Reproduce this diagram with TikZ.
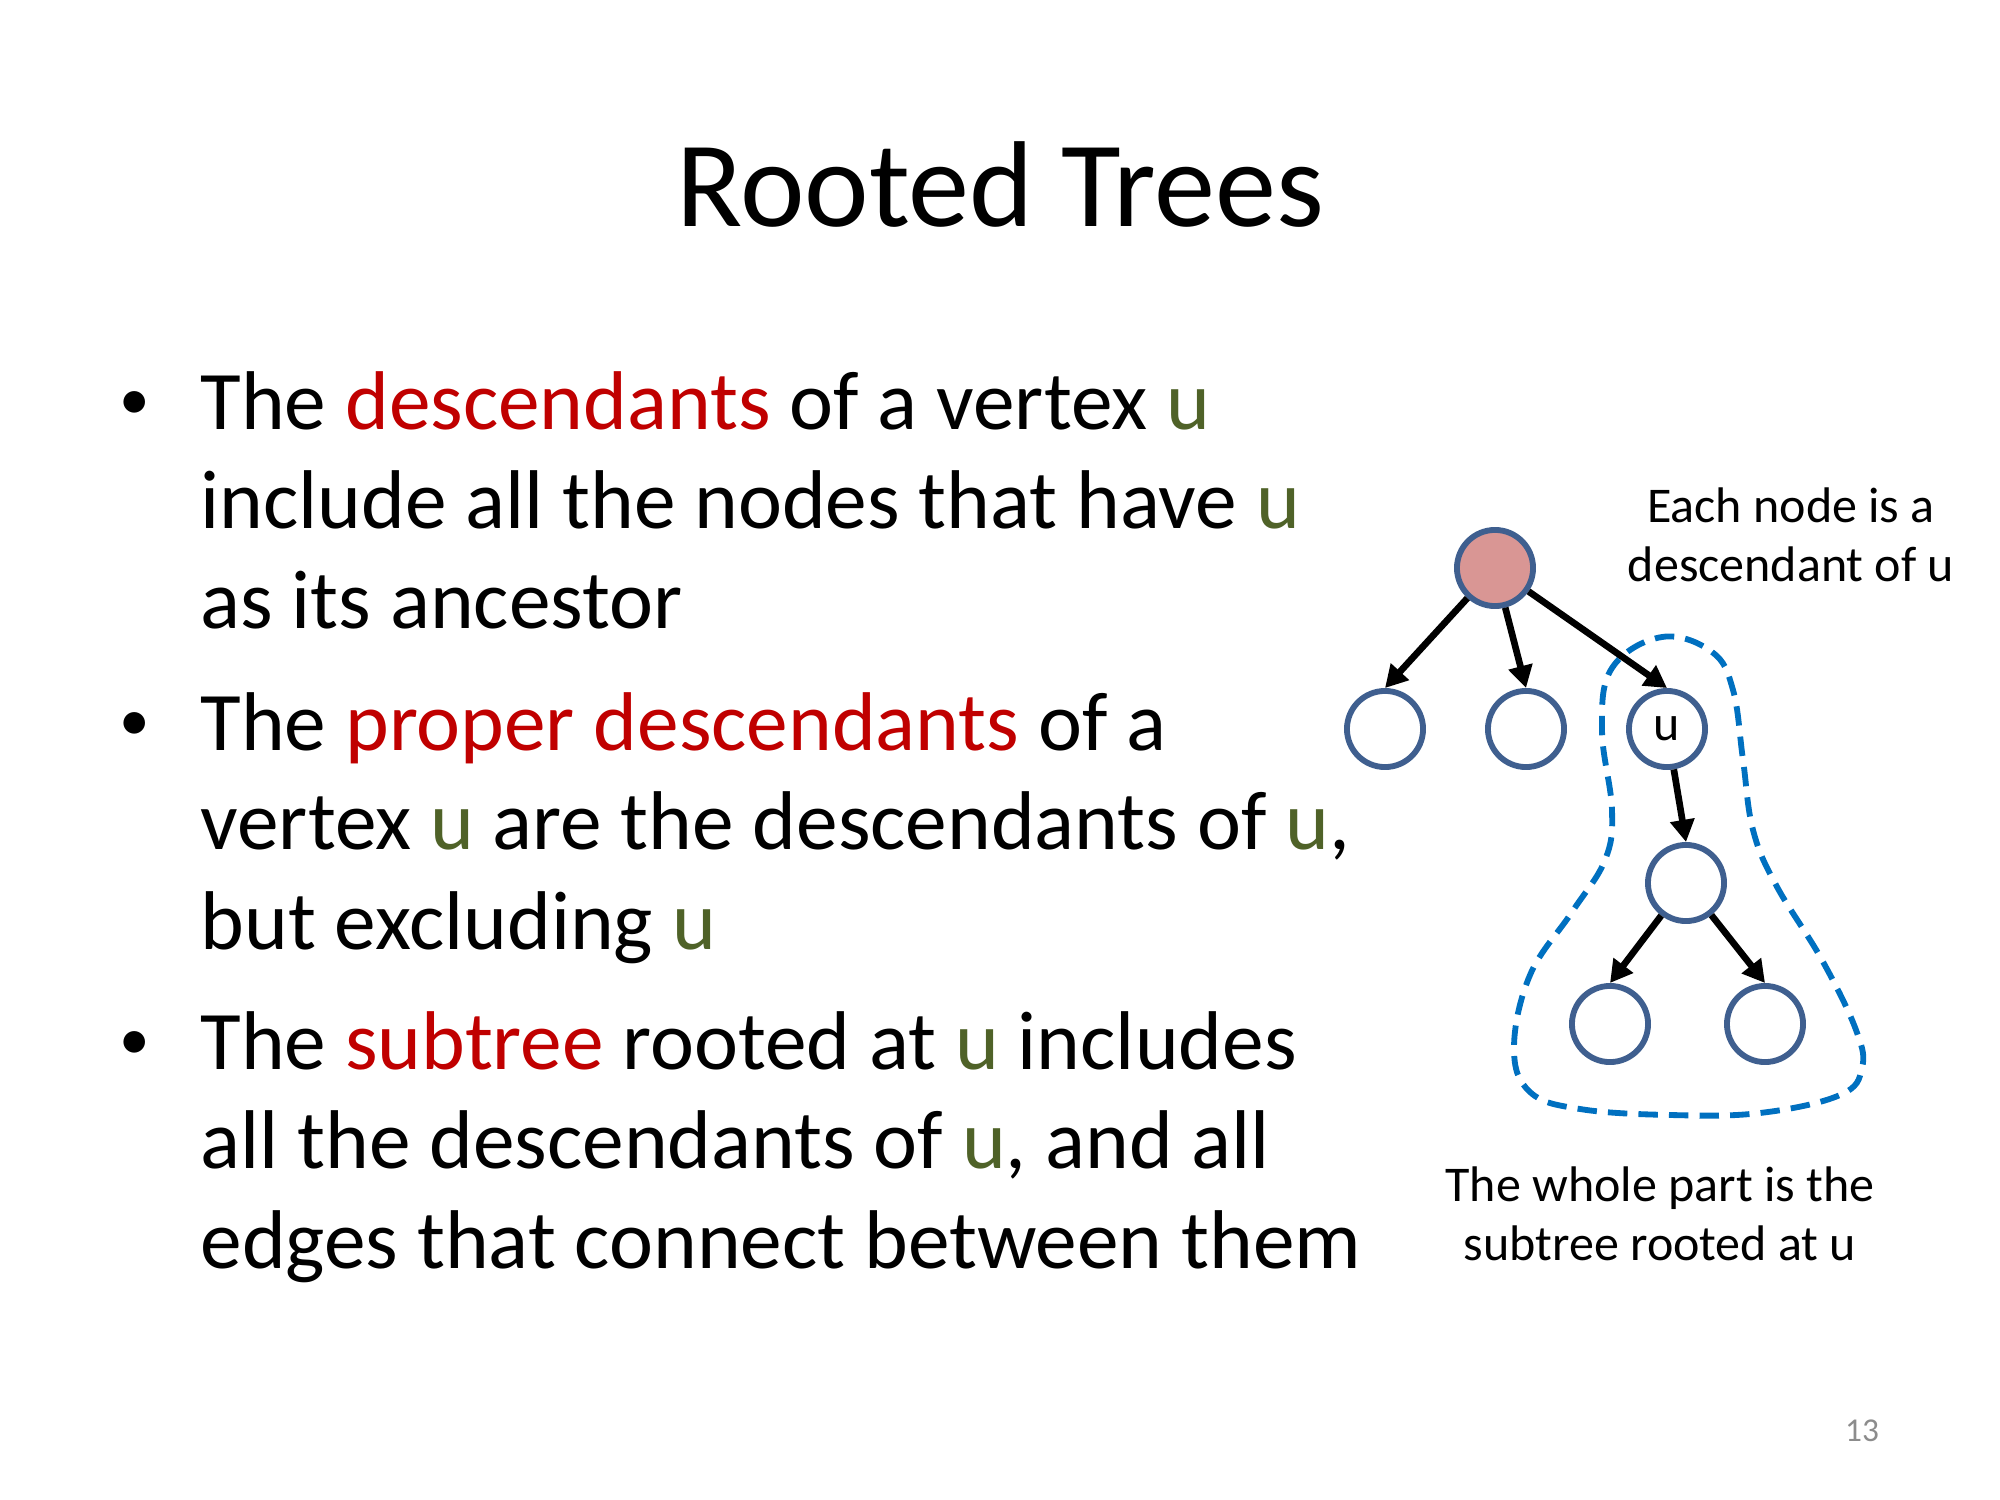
\documentclass[tikz,border=0pt]{standalone}
\usepackage{fontspec}
\setmainfont{Carlito}
\usetikzlibrary{arrows.meta}
\definecolor{tred}{HTML}{C00000}
\definecolor{tgreen}{HTML}{4F6228}
\definecolor{cline}{HTML}{3F5F8F}
\definecolor{rootfill}{HTML}{D99694}
\definecolor{dblue}{HTML}{0070C0}
\definecolor{pgray}{HTML}{8C8C8C}
\newcommand{\rd}[1]{\textcolor{tred}{#1}}
\newcommand{\gr}[1]{\textcolor{tgreen}{#1}}
\begin{document}
\begin{tikzpicture}[x=0.36pt,y=-0.36pt,
  vtx/.style={circle,draw=cline,line width=2.1pt,minimum size=27.4pt,inner sep=0pt,fill=white,font=\fontsize{18}{21}\selectfont},
  edge/.style={-{Triangle[length=8pt,width=8.5pt]},line width=2.4pt,black},
  body/.style={anchor=base west,inner sep=0pt,font=\fontsize{30}{36}\selectfont},
  bul/.style={anchor=base,inner sep=0pt,font=\fontsize{22}{26}\selectfont},
  lbl/.style={anchor=base,inner sep=0pt,font=\fontsize{18}{21}\selectfont}]
\useasboundingbox (0,0) rectangle (2000,1500);
% title
\node[anchor=base,inner sep=0pt,font=\fontsize{44}{53}\selectfont] (title) at (1000,227) {Rooted Trees};
% bullets
\node[bul] (b1) at (135,420) {•};
\node[body] (l11) at (200,430) {The \rd{descendants} of a vertex \gr{u}};
\node[body] (l12) at (200,529) {include all the nodes that have \gr{u}};
\node[body] (l13) at (200,628) {as its ancestor};
\node[bul] (b2) at (135,740) {•};
\node[body] (l21) at (200,750) {The \rd{proper descendants} of a};
\node[body] (l22) at (200,849.5) {vertex \gr{u} are the descendants of \gr{u},};
\node[body] (l23) at (200,949) {but excluding \gr{u}};
\node[bul] (b3) at (135,1059) {•};
\node[body] (l31) at (200,1069) {The \rd{subtree} rooted at \gr{u} includes};
\node[body] (l32) at (200,1168) {all the descendants of \gr{u}, and all};
\node[body] (l33) at (200,1268) {edges that connect between them};
% subtree outline
\draw[dblue,line width=2.1pt,dash pattern=on 7pt off 4pt,line cap=butt]
  plot[smooth cycle,tension=0.65] coordinates {
  (1662,637) (1712,652) (1733,690) (1743,760) (1753,830) (1776,885)
  (1822,960) (1856,1030) (1862,1068) (1840,1095) (1760,1113) (1670,1115)
  (1580,1109) (1530,1092) (1514,1048) (1530,975) (1572,912) (1605,860)
  (1612,810) (1602,730) (1612,668)};
% tree
\node[vtx,fill=rootfill] (root) at (1495,568) {};
\node[vtx] (c1) at (1385,729) {};
\node[vtx] (c2) at (1526,729) {};
\node[vtx] (u) at (1667,729) {u};
\node[vtx] (m) at (1686,883) {};
\node[vtx] (ll) at (1610,1024) {};
\node[vtx] (lr) at (1765,1024) {};
\draw[edge] (root) -- (c1.north);
\draw[edge] (root) -- (c2.north);
\draw[edge] (root) -- (u.north);
\draw[edge] (u) -- (m.north);
\draw[edge] (m) -- (ll.north);
\draw[edge] (m) -- (lr.north);
% labels
\node[lbl] (top1) at (1791,523) {Each node is a};
\node[lbl] (top2) at (1791,582) {descendant of u};
\node[lbl] (bot1) at (1660,1201) {The whole part is the};
\node[lbl] (bot2) at (1660,1260) {subtree rooted at u};
\node[anchor=base,inner sep=0pt,text=pgray,font=\fontsize{12}{14}\selectfont] (pg) at (1862,1441) {13};
\end{tikzpicture}
\end{document}
